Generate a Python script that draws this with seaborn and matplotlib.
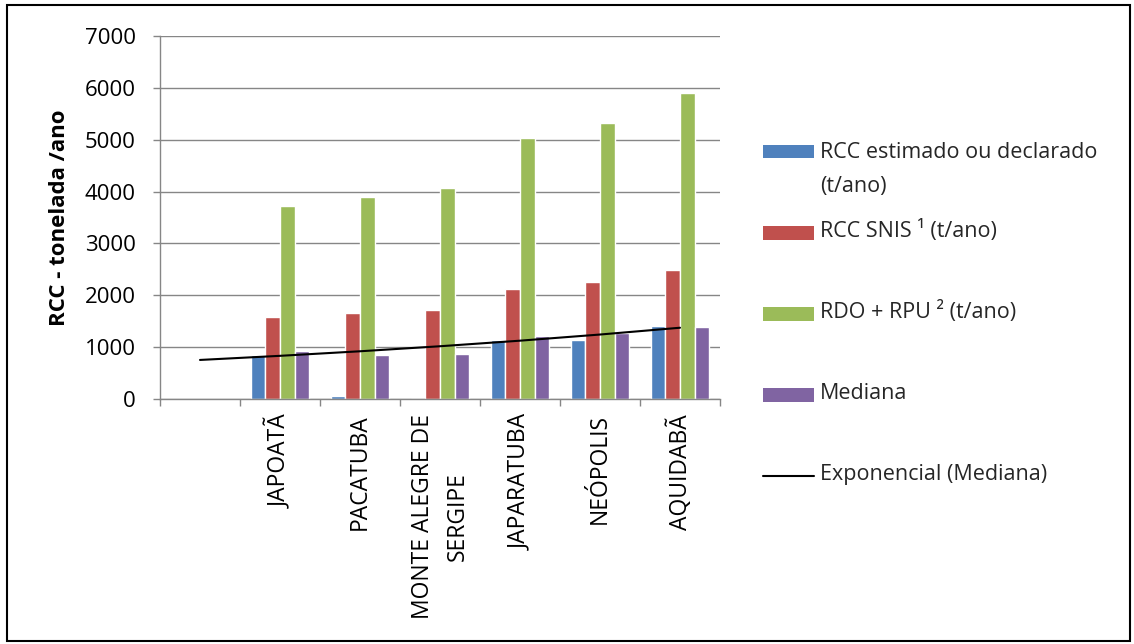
import numpy as np
import pandas as pd
import matplotlib
matplotlib.use("Agg")
import matplotlib.pyplot as plt
import seaborn as sns
from matplotlib.patches import Rectangle
from matplotlib.lines import Line2D
from matplotlib.legend_handler import HandlerBase

# ---- data ----
categories = ["", "JAPOATÃ", "PACATUBA", "MONTE ALEGRE DE\nSERGIPE",
              "JAPARATUBA", "NEÓPOLIS", "AQUIDABÃ"]
rcc_estimado = [np.nan, 840, 60, 0, 1135, 1130, 1405]
rcc_snis = [np.nan, 1575, 1655, 1725, 2125, 2255, 2485]
rdo_rpu = [np.nan, 3715, 3895, 4065, 5025, 5315, 5895]
mediana = [np.nan, 935, 855, 870, 1215, 1280, 1385]

series_names = ["RCC estimado ou declarado\n(t/ano)", "RCC SNIS ¹ (t/ano)",
                "RDO + RPU ² (t/ano)", "Mediana"]
trend_label = "Exponencial (Mediana)"
y_label = "RCC - tonelada /ano"
colors = ["#4F81BD", "#C0504D", "#9BBB59", "#8064A2"]

rows = []
for name, vals in zip(series_names, [rcc_estimado, rcc_snis, rdo_rpu, mediana]):
    for c, v in zip(categories, vals):
        rows.append((c, name, v))
df = pd.DataFrame(rows, columns=["Municipio", "Serie", "Valor"])

sns.set_theme(style="white")
plt.rcParams["font.family"] = ["Open Sans", "DejaVu Sans"]

W, H = 1134, 644
fig = plt.figure(figsize=(W / 100, H / 100), dpi=100)
ax = fig.add_axes([160 / W, 1 - 399 / H, 560 / W, 363 / H])

sns.barplot(data=df, x="Municipio", y="Valor", hue="Serie", order=categories,
            hue_order=series_names, palette=colors, width=0.73, saturation=1,
            errorbar=None, ax=ax, legend=True)

# exponential trend of Mediana
xpos = np.arange(len(categories))
med = np.array(mediana, dtype=float)
valid = ~np.isnan(med)
coef = np.polyfit(xpos[valid] + 1, np.log(med[valid]), 1)
trend = np.exp(coef[1] + coef[0] * (xpos + 1))
ax.plot(xpos, trend, color="black", lw=1.5, label=trend_label, zorder=5)

grid_c = "#868686"
ax.set_xlim(-0.5, len(categories) - 0.5)
ax.set_ylim(0, 7000)
ax.set_yticks(range(0, 7001, 1000))
ax.yaxis.grid(True, color=grid_c, lw=1.0)
ax.xaxis.grid(False)
ax.set_axisbelow(True)
for s in ["top", "right"]:
    ax.spines[s].set_visible(False)
for s in ["left", "bottom"]:
    ax.spines[s].set_color(grid_c)
    ax.spines[s].set_linewidth(1.0)

ax.tick_params(axis="y", left=True, length=5, width=1, color=grid_c, pad=12.5,
               labelsize=16, labelcolor="black", direction="out")
ax.set_xticks(xpos)
ax.set_xticklabels(categories)
ax.tick_params(axis="x", which="major", length=0, pad=11, labelsize=16.5, labelcolor="black")
ax.set_xticks(np.arange(-0.5, len(categories), 1), minor=True)
ax.tick_params(axis="x", which="minor", bottom=True, length=5, width=1, color=grid_c,
               direction="out")
for lab in ax.get_xticklabels():
    lab.set_rotation(90)
    lab.set_va("top")
    lab.set_ha("center")
    lab.set_multialignment("center")
    lab.set_linespacing(1.6)

ax.set_xlabel("")
ax.set_ylabel(y_label, fontsize=16, fontweight="bold", color="black")
ax.yaxis.set_label_coords(-0.161, 0.5)


class BoxHandler(HandlerBase):
    """Colour box of fixed height, centred in the handle area."""

    def __init__(self, h_frac=0.63):
        super().__init__()
        self.h_frac = h_frac

    def create_artists(self, legend, orig_handle, xdescent, ydescent, width,
                       height, fontsize, trans):
        hh = self.h_frac * fontsize
        y = -ydescent + (height - hh) / 2
        p = Rectangle((-xdescent, y), width, hh,
                      facecolor=orig_handle.get_facecolor(), edgecolor="none",
                      transform=trans)
        return [p]


class LineHandler(HandlerBase):
    """Line sample centred in the handle area."""

    def create_artists(self, legend, orig_handle, xdescent, ydescent, width,
                       height, fontsize, trans):
        y = -ydescent + height / 2
        ln = Line2D([-xdescent, -xdescent + width], [y, y],
                    color=orig_handle.get_color(), lw=orig_handle.get_linewidth(),
                    transform=trans)
        return [ln]


handles, labels = ax.get_legend_handles_labels()
if ax.get_legend() is not None:
    ax.get_legend().remove()
hmap = {}
for h in handles:
    hmap[h] = LineHandler() if isinstance(h, Line2D) else BoxHandler(0.63)
leg = fig.legend(handles, labels, loc="center left", bbox_to_anchor=(0.656, 0.5125),
                 frameon=False, fontsize=15.5, handlelength=2.35, handleheight=7.42,
                 handletextpad=0.3, labelspacing=-1.30, handler_map=hmap)
for t in leg.get_texts():
    t.set_linespacing(1.85)
    if "\n" in t.get_text():
        # first text line level with its colour box (Excel legend style)
        t.set_y(-22)

fig.add_artist(Rectangle((7 / W, 3 / H), (1130 - 7) / W, (639 - 3) / H,
                         transform=fig.transFigure, fill=False,
                         edgecolor="black", lw=1.5))

fig.savefig("out.png", dpi=100)
